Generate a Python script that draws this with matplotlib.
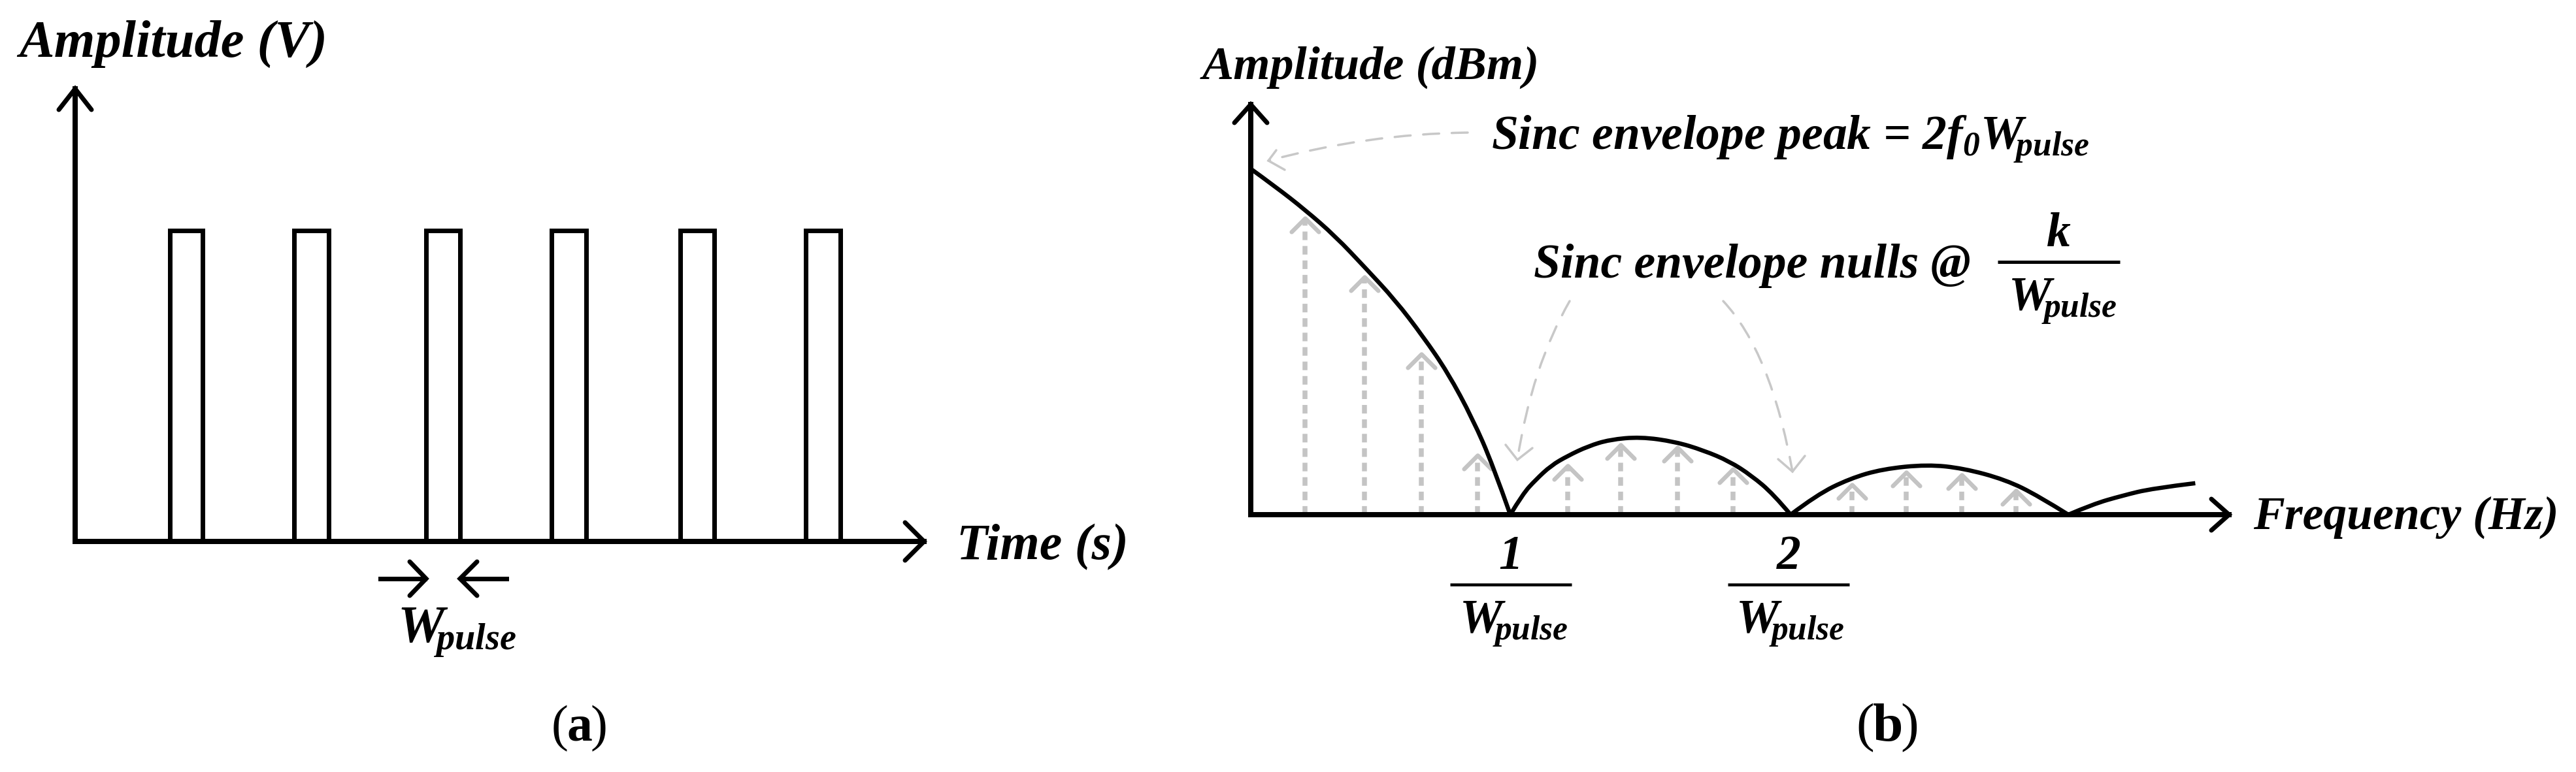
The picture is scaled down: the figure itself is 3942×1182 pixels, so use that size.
import matplotlib
matplotlib.use('Agg')
import matplotlib.pyplot as plt
from matplotlib.markers import MarkerStyle
from matplotlib.patches import PathPatch
from matplotlib.path import Path

W, H = 3942, 1182
PX = 0.72  # one pixel in points at dpi 100
GREY = '#c4c4c4'
SERIF = 'Liberation Serif'
W_PULSE = r'$\mathbf{W\!{}_{pulse}}$'

plt.rcParams['mathtext.fontset'] = 'custom'
plt.rcParams['mathtext.bf'] = 'Liberation Serif:italic:bold'

# panel (a): pulse train, time in arbitrary units, amplitude normalised
pulse_start = [1.445, 3.35, 5.37, 7.29, 9.26, 11.18]
pulse_end = [1.95, 3.88, 5.89, 7.82, 9.78, 11.71]
pulse_high = 1.0

# panel (b): sinc envelope lobes, f in units of 1/Wpulse-ish, amplitude over peak
lobe1_f = [0, .094, .210, .326, .441, .557, .663, .759, .855, .933, 1.0]
lobe1_a = [1, .949, .881, .805, .714, .620, .516, .411, .277, .143, 0]
lobe2_f = [1.0, 1.048, 1.098, 1.157, 1.221, 1.300, 1.383, 1.501, 1.635, 1.744, 1.845, 1.929, 2.013, 2.080]
lobe2_a = [0, .060, .101, .142, .170, .198, .217, .225, .211, .186, .154, .113, .060, 0]
lobe3_f = [2.080, 2.180, 2.307, 2.434, 2.607, 2.746, 2.908, 3.035, 3.150]
lobe3_a = [0, .057, .104, .132, .145, .134, .101, .054, 0]
lobe4_f = [3.150, 3.243, 3.358, 3.474, 3.639]
lobe4_a = [0, .030, .055, .076, .091]

# spectral lines under the envelope
line_f = [.209, .439, .656, .873, 1.222, 1.424, 1.645, 1.859, 2.316, 2.524, 2.740, 2.948]
line_a = [.858, .688, .465, .172, .141, .203, .195, .132, .087, .123, .116, .069]


def smooth(xs, ys):
    # quadratic spline through the midpoints, ends stay where they were read
    verts = [(xs[0], ys[0])]
    codes = [Path.MOVETO]
    for i in range(1, len(xs) - 2):
        verts += [(xs[i], ys[i]), ((xs[i] + xs[i + 1]) / 2, (ys[i] + ys[i + 1]) / 2)]
        codes += [Path.CURVE3, Path.CURVE3]
    verts += [(xs[-2], ys[-2]), (xs[-1], ys[-1])]
    codes += [Path.CURVE3, Path.CURVE3]
    return Path(verts, codes)


def panel_axes(fig, x0, x1, y_top, y_base, xmax, ymax):
    ax = fig.add_axes([x0 / W, 1 - y_base / H, (x1 - x0) / W, (y_base - y_top) / H])
    ax.set_xlim(0, xmax)
    ax.set_ylim(0, ymax)
    ax.patch.set_visible(False)
    for s in ['top', 'right']:
        ax.spines[s].set_visible(False)
    for s in ['left', 'bottom']:
        ax.spines[s].set_linewidth(8 * PX)
        ax.spines[s].set_zorder(5)
    ax.set_xticks([])
    ax.set_yticks([])
    return ax


fig = plt.figure(figsize=(W / 100, H / 100), dpi=100, facecolor='white')

ax_a = panel_axes(fig, 115, 1414, 136, 829, 12.99, 1.456)
for s, e in zip(pulse_start, pulse_end):
    ax_a.plot([s, s, e, e], [0, pulse_high, pulse_high, 0], color='black', lw=7 * PX,
              solid_joinstyle='miter', clip_on=False)

ax_b = panel_axes(fig, 1914, 3411, 160, 788, 3.769, 1.186)
chevron = MarkerStyle(Path([(-1, -1), (0, 0), (1, -1)]), capstyle='round', joinstyle='miter')
ax_b.vlines(line_f, 0, line_a, color=GREY, lw=7.5 * PX, linestyles=[(0, (1.75, 1.2))], zorder=2)
ax_b.plot(line_f, line_a, ls='none', marker=chevron, ms=30, mfc='none', mec=GREY, mew=6.5 * PX,
          clip_on=False, zorder=3)
for fs, amps in [(lobe1_f, lobe1_a), (lobe2_f, lobe2_a), (lobe3_f, lobe3_a), (lobe4_f, lobe4_a)]:
    ax_b.add_patch(PathPatch(smooth(fs, amps), fc='none', ec='black', lw=6.5 * PX, capstyle='butt',
                             clip_on=False, zorder=4))

# overlay in reference pixels for labels, arrowheads and callouts
over = fig.add_axes([0, 0, 1, 1], zorder=10)
over.set_xlim(0, W)
over.set_ylim(H, 0)
over.axis('off')


def label(x, y, s, size, style='italic', weight='bold', ha='left'):
    over.text(x, y, s, fontsize=size, family=SERIF, style=style, weight=weight, ha=ha, va='baseline', color='black')


def vee(tip, arm1, arm2, color='black', lw=7):
    over.plot([arm1[0], tip[0], arm2[0]], [arm1[1], tip[1], arm2[1]], color=color, lw=lw * PX,
              solid_capstyle='round', solid_joinstyle='miter')


def callout(start, ctrl, tip, arm1, arm2):
    over.add_patch(PathPatch(Path([start, ctrl, tip], [Path.MOVETO, Path.CURVE3, Path.CURVE3]), fc='none',
                             ec='#c8c8c8', lw=3.5 * PX, ls=(0, (7, 5.5)), capstyle='round'))
    vee(tip, arm1, arm2, color='#c8c8c8', lw=3.5)


# axis arrowheads
vee((115, 136), (90, 168), (140, 168))
vee((1414, 829), (1385, 800), (1385, 858))
vee((1914, 160), (1889, 188), (1939, 188))
vee((3411, 788), (3384, 764), (3384, 812))

# panel (a) text and width markers
label(29, 87, 'Amplitude (V)', 58)
label(1464, 856, 'Time (s)', 56)
over.plot([582, 650], [886, 886], color='black', lw=7 * PX)
vee((652, 886), (627, 860), (627, 912))
over.plot([706, 775], [886, 886], color='black', lw=7 * PX)
vee((704, 886), (730, 860), (730, 912))
label(608, 984, W_PULSE, 58)

label(844, 1134, '(', 56, style='normal', weight='normal')
label(868, 1134, 'a', 56, style='normal')
label(904, 1134, ')', 56, style='normal', weight='normal')

# panel (b) text
label(1840, 121, 'Amplitude (dBm)', 52)
label(3448, 810, 'Frequency (Hz)', 51.6)
label(2282, 228, r'Sinc envelope peak = 2$\mathbf{f_0W\!{}_{pulse}}$', 53)
label(2347, 425, 'Sinc envelope nulls @', 53)
label(3150, 377, 'k', 53, ha='center')
over.plot([3057, 3244], [401, 401], color='black', lw=5 * PX, solid_capstyle='butt')
label(3073, 475, W_PULSE, 53)

for num, cx, x0, x1, xw in [('1', 2312, 2219, 2405, 2233), ('2', 2737, 2644, 2830, 2656)]:
    label(cx, 871, num, 53, ha='center')
    over.plot([x0, x1], [895, 895], color='black', lw=4.5 * PX, solid_capstyle='butt')
    label(xw, 969, W_PULSE, 53)

label(2840, 1134, '(', 60, style='normal', weight='normal')
label(2866, 1134, 'b', 60, style='normal')
label(2908, 1134, ')', 60, style='normal', weight='normal')

# callouts
callout((2246, 203), (2092, 205), (1941, 246), (1966, 260), (1953, 230))
callout((2402, 461), (2344, 562), (2322, 704), (2304, 681), (2345, 686))
callout((2637, 461), (2710, 539), (2743, 722), (2721, 703), (2762, 698))

fig.savefig('out.png', dpi=100, facecolor='white')
